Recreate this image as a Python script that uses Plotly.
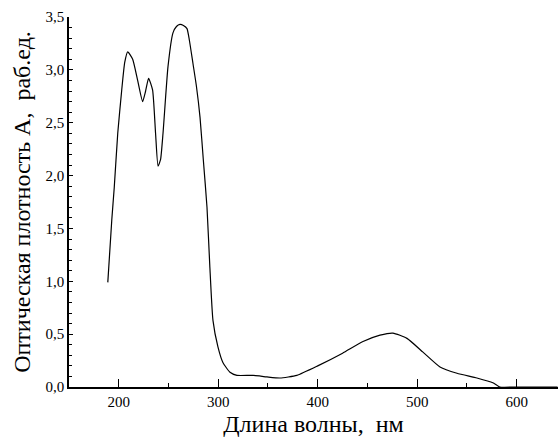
import plotly.graph_objects as go

wavelength_nm = [189, 193, 195.5, 199, 203, 206, 209, 214, 219, 224, 227, 230, 234, 237, 239.5, 242,
                 244.5, 249.5, 254.5, 258, 261.5, 265, 268.6, 271, 274.6, 278, 281.7, 285, 288.7,
                 291.5, 294.7, 299.7, 304.8, 311.8, 318.8, 335, 349, 362, 379, 400, 425, 445.5,
                 462.6, 475.6, 489.7, 505.8, 522.9, 540, 560, 576, 583, 600, 641]
absorbance = [0.99, 1.58, 1.89, 2.40, 2.81, 3.07, 3.17, 3.10, 2.90, 2.70, 2.80, 2.92, 2.81, 2.40,
              2.09, 2.15, 2.40, 3.03, 3.35, 3.41, 3.43, 3.42, 3.39, 3.28, 3.06, 2.85, 2.55, 2.15,
              1.70, 1.15, 0.63, 0.38, 0.23, 0.14, 0.11, 0.11, 0.095, 0.085, 0.11, 0.20, 0.32, 0.43,
              0.49, 0.51, 0.46, 0.33, 0.19, 0.13, 0.085, 0.04, 0.0, 0.0, 0.0]

x_ticks = [200, 300, 400, 500, 600]
y_ticks = [0.0, 0.5, 1.0, 1.5, 2.0, 2.5, 3.0, 3.5]

fig = go.Figure()
fig.add_trace(go.Scatter(x=wavelength_nm, y=absorbance, mode="lines",
                         line=dict(color="black", width=1.2, shape="spline", smoothing=0.5),
                         hoverinfo="skip", showlegend=False))

font_family = "Liberation Serif, Times New Roman, serif"
fig.update_layout(
    width=558, height=440,
    margin=dict(l=69, r=0, t=17, b=53),
    paper_bgcolor="white", plot_bgcolor="white",
    separators=",.",
    font=dict(family=font_family, color="black", size=15),
    xaxis=dict(range=[150, 641.5], tickvals=x_ticks, ticks="inside", ticklen=8, tickwidth=1.2,
               tickcolor="black", showline=True, linecolor="black", linewidth=1.5,
               showgrid=False, zeroline=False,
               minor=dict(tickvals=[250, 350, 450, 550], ticks="inside", ticklen=4, tickcolor="black"),
               title=dict(text="Длина волны,  нм", font=dict(size=24, family=font_family), standoff=6),
               tickfont=dict(size=15, family=font_family)),
    yaxis=dict(range=[0, 3.5], tickvals=y_ticks, tickformat=".1f", ticks="inside", ticklen=4,
               tickwidth=1.2, tickcolor="black", showline=True, linecolor="black", linewidth=1.5,
               showgrid=False, zeroline=False,
               minor=dict(dtick=0.1, ticks="inside", ticklen=3, tickcolor="black"),
               title=dict(text="Оптическая плотность А,  раб.ед.", font=dict(size=24, family=font_family), standoff=8),
               tickfont=dict(size=15, family=font_family)),
)
fig.write_html("out.html", config={"displayModeBar": False},
               post_script="document.body.style.margin='0';document.body.style.overflow='hidden';")
